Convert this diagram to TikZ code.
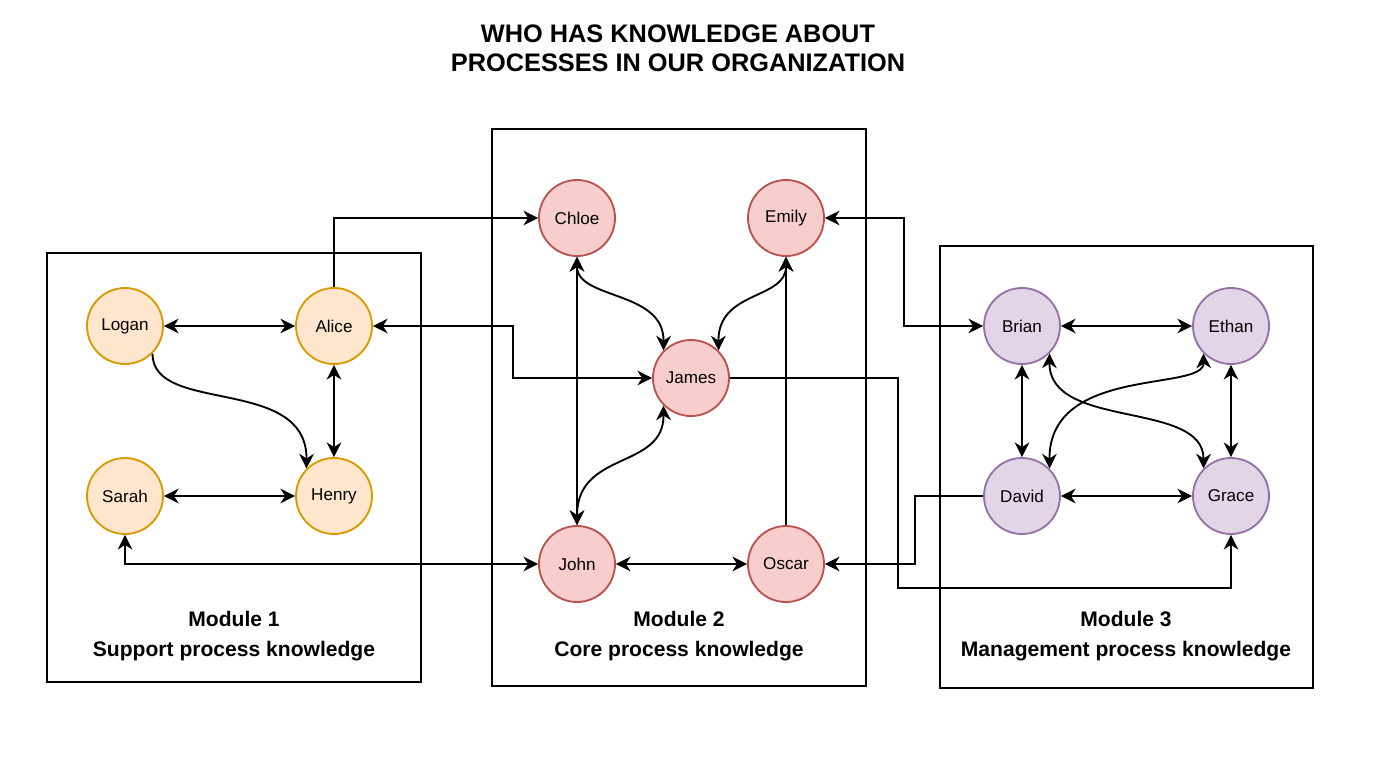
\documentclass[tikz,border=0pt]{standalone}
\usepackage{fontspec}
\setmainfont{Liberation Sans}
\usetikzlibrary{arrows.meta}
\definecolor{orfill}{HTML}{FFE6CC}
\definecolor{ordraw}{HTML}{D79B00}
\definecolor{rdfill}{HTML}{F8CECC}
\definecolor{rddraw}{HTML}{B85450}
\definecolor{pufill}{HTML}{E1D5E7}
\definecolor{pudraw}{HTML}{9673A6}
\tikzset{
  person/.style={circle, minimum size=57pt, inner sep=0pt, line width=1.4pt, font=\fontsize{12.8}{15}\selectfont},
  orperson/.style={person, fill=orfill, draw=ordraw},
  rdperson/.style={person, fill=rdfill, draw=rddraw},
  puperson/.style={person, fill=pufill, draw=pudraw},
  modbox/.style={draw, line width=1.5pt},
  modlabel/.style={align=center, font=\bfseries\fontsize{15.8}{22.5}\selectfont},
  link/.style={line width=1.4pt, -{Stealth[length=11pt,width=11pt,inset=3.5pt]}},
  dlink/.style={line width=1.4pt, {Stealth[length=11pt,width=11pt,inset=3.5pt]}-{Stealth[length=11pt,width=11pt,inset=3.5pt]}}
}
\begin{document}
\begin{tikzpicture}[x=0.75pt,y=-0.75pt]
\useasboundingbox (0,0) rectangle (1386,775);
% title
\node[align=center, font=\bfseries\fontsize{19}{21.75}\selectfont] (title) at (678,48) {WHO HAS KNOWLEDGE ABOUT\\PROCESSES IN OUR ORGANIZATION};
% module boxes
\draw[modbox] (47,253) rectangle (421,682);
\draw[modbox] (492,129) rectangle (866,686);
\draw[modbox] (940,246) rectangle (1313,688);
\node[modlabel] (m1) at (234,636) {Module 1\\Support process knowledge};
\node[modlabel] (m2) at (679,636) {Module 2\\Core process knowledge};
\node[modlabel] (m3) at (1126,636) {Module 3\\Management process knowledge};
% people
\node[orperson] (Logan) at (125,326) {Logan};
\node[orperson] (Alice) at (334,326) {Alice};
\node[orperson] (Sarah) at (125,496) {Sarah};
\node[orperson] (Henry) at (334,496) {Henry};
\node[rdperson] (Chloe) at (577,218) {Chloe};
\node[rdperson] (Emily) at (786,218) {Emily};
\node[rdperson] (James) at (691,378) {James};
\node[rdperson] (John) at (577,564) {John};
\node[rdperson] (Oscar) at (786,564) {Oscar};
\node[puperson] (Brian) at (1022,326) {Brian};
\node[puperson] (Ethan) at (1231,326) {Ethan};
\node[puperson] (David) at (1022,496) {David};
\node[puperson] (Grace) at (1231,496) {Grace};
% module 1 links
\draw[dlink] (Logan) -- (Alice);
\draw[dlink] (Alice) -- (Henry);
\draw[dlink] (Sarah) -- (Henry);
\draw[link] (Logan.-45) .. controls (152,415) and (307,375) .. (Henry.135);
% module 2 links
\draw[dlink] (Chloe.south) .. controls (577,300) and (664,290) .. (James.135);
\draw[dlink] (Emily.south) .. controls (786,300) and (718,290) .. (James.45);
\draw[dlink] (James.-135) .. controls (664,470) and (577,450) .. (John.north);
\draw[dlink] (Chloe) -- (John);
\draw[dlink] (John) -- (Oscar);
\draw[link] (Oscar.north) -- (Emily.south);
% module 3 links
\draw[dlink] (Brian) -- (Ethan);
\draw[dlink] (Brian) -- (David);
\draw[dlink] (Ethan) -- (Grace);
\draw[dlink] (David) -- (Grace);
\draw[dlink] (Brian.-45) .. controls (1049,430) and (1204,400) .. (Grace.135);
\draw[dlink] (Ethan.-135) .. controls (1204,392) and (1049,365) .. (David.45);
% cross-module links
\draw[link] (Alice.north) |- (Chloe.west);
\draw[dlink] (Alice.east) -- ++(140,0) |- (James.west);
\draw[dlink] (Sarah.south) |- (John.west);
\draw[dlink] (Emily.east) -- ++(79,0) |- (Brian.west);
\draw[link] (David.west) -- ++(-68,0) |- (Oscar.east);
\draw[link] (James.east) -- ++(168,0) -- ++(0,210) -| (Grace.south);
\end{tikzpicture}
\end{document}
